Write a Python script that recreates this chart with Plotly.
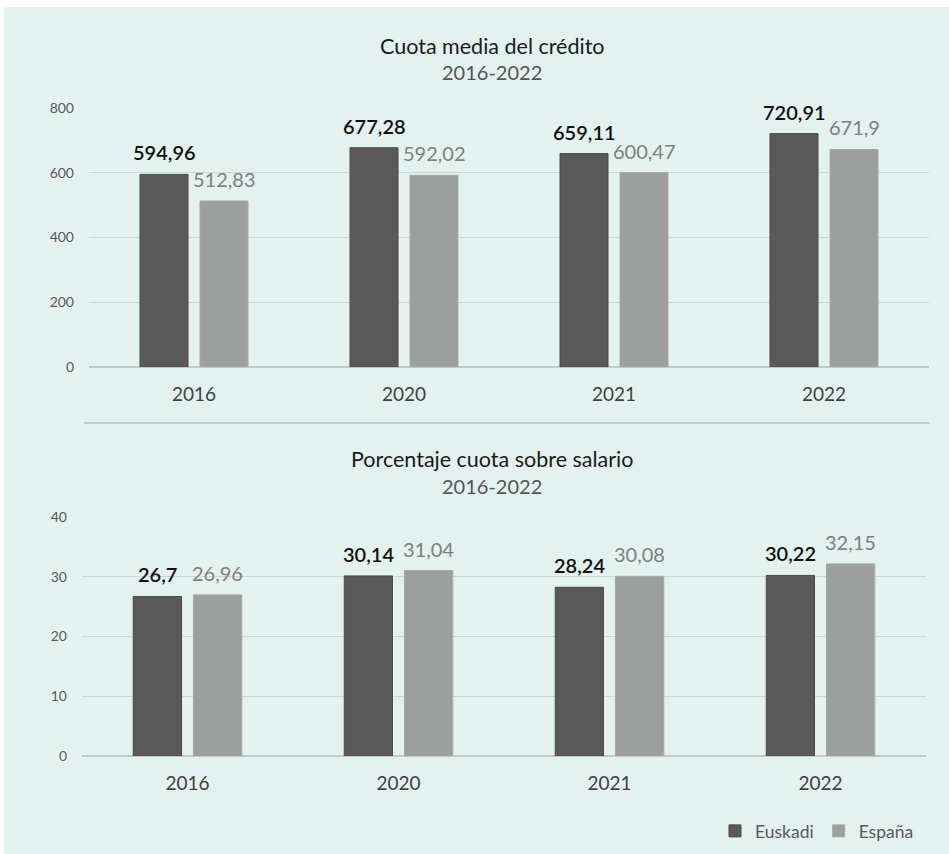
import plotly.graph_objects as go

years = ["2016", "2020", "2021", "2022"]
cuota_euskadi = [594.96, 677.28, 659.11, 720.91]
cuota_espana = [512.83, 592.02, 600.47, 671.9]
pct_euskadi = [26.7, 30.14, 28.24, 30.22]
pct_espana = [26.96, 31.04, 30.08, 32.15]
cuota_ticks = [0, 200, 400, 600, 800]
pct_ticks = [0, 10, 20, 30, 40]


def es(v):
    s = ("%.2f" % v).rstrip("0").rstrip(".")
    return s.replace(".", ",")


W, H = 949, 854
C_EUS = "#595959"
C_ESP = "#9d9f9f"
BG = "#e3f2ee"
GRID = "#c9d8d4"
FONT = "Lato"

fig = go.Figure()

fig.add_trace(go.Bar(x=years, y=cuota_euskadi, name="Euskadi", marker_color=C_EUS,
                     marker_line=dict(color="#4a4a4a", width=1),
                     xaxis="x", yaxis="y", legendgroup="e"))
fig.add_trace(go.Bar(x=years, y=cuota_espana, name="España", marker_color=C_ESP,
                     marker_line=dict(color="#a6a8a8", width=1),
                     xaxis="x", yaxis="y", legendgroup="s"))
fig.add_trace(go.Bar(x=years, y=pct_euskadi, name="Euskadi", marker_color=C_EUS,
                     marker_line=dict(color="#4a4a4a", width=1),
                     xaxis="x2", yaxis="y2", showlegend=False, legendgroup="e"))
fig.add_trace(go.Bar(x=years, y=pct_espana, name="España", marker_color=C_ESP,
                     marker_line=dict(color="#a6a8a8", width=1),
                     xaxis="x2", yaxis="y2", showlegend=False, legendgroup="s"))

# data labels above the bars
series = [("x", "y", cuota_euskadi, -30, "#111111", 600),
          ("x", "y", cuota_espana, 30, "#7f7f7f", 400),
          ("x2", "y2", pct_euskadi, -30, "#111111", 600),
          ("x2", "y2", pct_espana, 30, "#7f7f7f", 400)]
for xr, yr, vals, dx, col, wt in series:
    for i, v in enumerate(vals):
        fig.add_annotation(x=i, y=v, xref=xr, yref=yr, text=es(v), showarrow=False,
                           xshift=dx, yshift=8, yanchor="bottom", xanchor="center",
                           font=dict(size=20, color=col, family=FONT, weight=wt))

xcommon = dict(type="category", showgrid=False, showline=False, ticks="", zeroline=False,
               automargin=False, tickfont=dict(size=19, color="#404040", family=FONT),
               ticklabelstandoff=14)
ycommon = dict(showgrid=True, gridcolor=GRID, gridwidth=1, zeroline=True, zerolinecolor="#bccbc7",
               zerolinewidth=1.5, showline=False, ticks="", automargin=False,
               tickfont=dict(size=14, color="#595959", family=FONT), ticklabelstandoff=14)

fig.update_layout(
    width=W, height=H,
    margin=dict(l=0, r=0, t=0, b=0, pad=0, autoexpand=False),
    paper_bgcolor="white", plot_bgcolor="rgba(0,0,0,0)",
    barmode="group", bargap=0.4286, bargroupgap=0.2,
    font=dict(family=FONT, color="#404040"),
    xaxis=dict(domain=[89 / W, 929 / W], anchor="y", **xcommon),
    yaxis=dict(domain=[1 - 367 / H, 1 - 108 / H], range=[0, 800], tickvals=cuota_ticks,
               anchor="x", **ycommon),
    xaxis2=dict(domain=[82 / W, 926 / W], anchor="y2", **xcommon),
    yaxis2=dict(domain=[1 - 756 / H, 1 - 517 / H], range=[0, 40], tickvals=pct_ticks,
                anchor="x2", **ycommon),
    legend=dict(orientation="h", x=919 / W, xanchor="right", y=1 - 831 / H, yanchor="middle",
                font=dict(size=17.5, color="#595959", family=FONT), bgcolor="rgba(0,0,0,0)",
                itemwidth=30, traceorder="normal"),
    showlegend=True,
)

# background panel
fig.add_shape(type="rect", xref="paper", yref="paper", x0=4 / W, x1=1, y0=0, y1=1 - 7 / H,
              fillcolor=BG, line=dict(width=0), layer="below")
# divider line
fig.add_shape(type="line", xref="paper", yref="paper", x0=84 / W, x1=930 / W,
              y0=1 - 423 / H, y1=1 - 423 / H, line=dict(color="#bfcfcb", width=2))

titles = [("Cuota media del crédito", 46, "#1a1a1a", 21.5),
          ("2016-2022", 72, "#555555", 20),
          ("Porcentaje cuota sobre salario", 459, "#1a1a1a", 21.5),
          ("2016-2022", 486, "#555555", 20)]
for txt, yy, col, sz in titles:
    fig.add_annotation(text=txt, xref="paper", yref="paper", x=492 / W, y=1 - yy / H,
                       xanchor="center", yanchor="middle", showarrow=False,
                       font=dict(size=sz, color=col, family=FONT))

fig.write_html("out.html", post_script="document.body.style.margin='0';",
               config={"displayModeBar": False})
